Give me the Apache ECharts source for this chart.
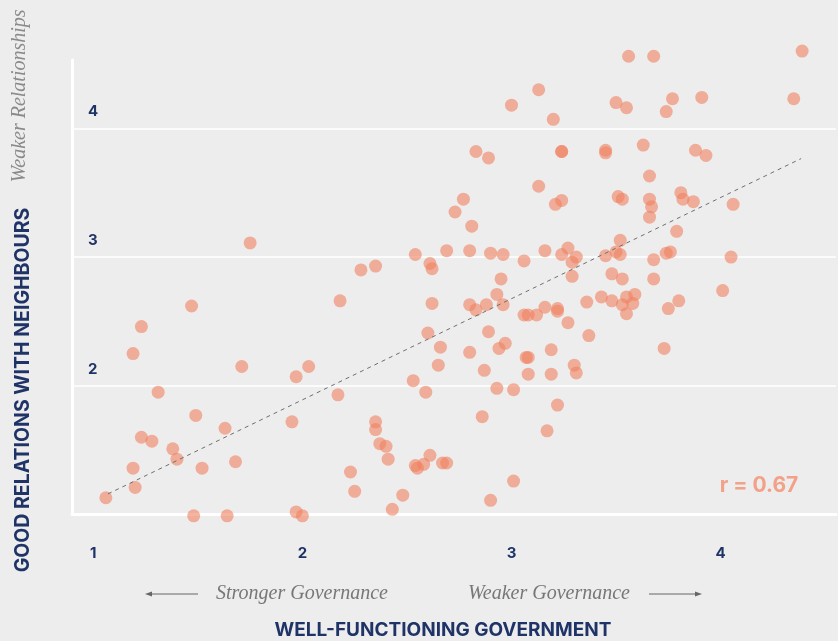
<!DOCTYPE html>
<html>
<head>
<meta charset="utf-8">
<script src="https://cdn.jsdelivr.net/npm/echarts@6/dist/echarts.min.js"></script>
<style>
  html, body { margin: 0; padding: 0; background: #ededed; }
  #main { width: 838px; height: 641px; }
</style>
</head>
<body>
<div id="main"></div>
<script>
// governance score (x) and neighbour relations score (y), one entry per country
let govScores = [
  1.75, 1.47, 1.23, 1.19, 1.71, 1.97, 2.03, 1.31, 1.49, 1.63, 1.95, 1.23, 1.28, 1.38, 1.40, 1.19,
  1.52, 1.68, 1.20, 1.06, 1.48, 1.64, 1.97, 2.00,
  2.77, 2.73, 2.81, 2.54, 2.69, 2.80, 2.35, 2.28, 2.61, 2.62, 2.18, 2.62, 2.80, 2.83, 2.88, 2.60,
  2.66, 2.80, 2.17, 2.53, 2.59, 2.65, 2.87, 2.86, 2.35, 2.35, 2.37, 2.40, 2.41, 2.23, 2.25, 2.48,
  2.43, 2.61, 2.54, 2.58, 2.55, 2.67, 2.69, 2.90,
  3.56, 3.68, 3.13, 3.00, 3.20, 3.50, 3.55, 2.83, 2.89, 3.24, 3.24, 3.45, 3.45, 3.63, 3.13, 3.24,
  3.21, 3.66, 3.51, 3.53, 3.66, 3.67, 3.66, 3.52, 2.90, 2.96, 3.06, 3.16, 3.27, 3.24, 3.31, 3.29,
  3.29, 3.45, 3.50, 3.52, 3.68, 3.48, 3.53, 3.68, 2.95, 2.93, 2.96, 3.06, 3.08, 3.12, 3.16, 3.22,
  3.22, 3.36, 3.43, 3.48, 3.55, 3.59, 3.58, 3.53, 3.55, 3.27, 3.37, 2.89, 2.97, 2.94, 3.08, 3.07,
  3.19, 3.08, 3.19, 3.30, 3.31, 3.73, 2.93, 3.01, 3.22, 3.17, 3.01,
  4.39, 3.77, 3.91, 3.74, 4.35, 3.88, 3.93, 3.81, 3.82, 3.87, 4.06, 3.79, 3.74, 3.76, 4.05, 3.80,
  3.75, 4.01
];
let relScores = [
  3.11, 2.62, 2.46, 2.25, 2.15, 2.07, 2.15, 1.95, 1.77, 1.67, 1.72, 1.60, 1.57, 1.51, 1.43, 1.36,
  1.36, 1.41, 1.21, 1.13, 0.99, 0.99, 1.02, 0.99,
  3.45, 3.35, 3.24, 3.02, 3.05, 3.05, 2.93, 2.90, 2.95, 2.91, 2.66, 2.64, 2.63, 2.59, 2.63, 2.41,
  2.30, 2.26, 1.93, 2.04, 1.95, 2.16, 2.12, 1.76, 1.72, 1.66, 1.55, 1.53, 1.43, 1.33, 1.18, 1.15,
  1.04, 1.46, 1.38, 1.39, 1.36, 1.40, 1.40, 1.11,
  4.56, 4.56, 4.30, 4.18, 4.07, 4.20, 4.16, 3.82, 3.77, 3.82, 3.82, 3.83, 3.81, 3.87, 3.55, 3.44,
  3.41, 3.63, 3.47, 3.45, 3.45, 3.39, 3.31, 3.13, 3.03, 3.02, 2.97, 3.05, 3.07, 3.02, 3.00, 2.96,
  2.85, 3.01, 3.04, 3.02, 2.98, 2.87, 2.83, 2.83, 2.83, 2.71, 2.63, 2.55, 2.55, 2.55, 2.61, 2.60,
  2.58, 2.65, 2.69, 2.66, 2.69, 2.71, 2.64, 2.63, 2.56, 2.49, 2.39, 2.42, 2.33, 2.29, 2.22, 2.22,
  2.28, 2.09, 2.09, 2.16, 2.10, 2.29, 1.98, 1.97, 1.85, 1.65, 1.26,
  4.60, 4.23, 4.24, 4.13, 4.23, 3.83, 3.79, 3.50, 3.45, 3.43, 3.41, 3.20, 3.03, 3.04, 3.00, 2.66,
  2.60, 2.74
];
// dashed fit line end points
let trendX = [1.07, 4.385];
let trendY = [1.16, 3.765];
let xTicks = [1, 2, 3, 4];
let yTicks = [2, 3, 4];
let rValue = '0.67';

let navy = '#1f3366';
let salmon = '#f0805f';
let serif = 'italic 20px "Liberation Serif"';

let points = govScores.map((x, i) => [x, relScores[i]]);
let trend = trendX.map((x, i) => [x, trendY[i]]);

let chart = echarts.init(document.getElementById('main'));
chart.setOption({
  backgroundColor: '#ededed',
  animation: false,
  grid: { left: 72, right: 2, top: 60, bottom: 126.5 },
  xAxis: {
    type: 'value',
    min: 0.898,
    max: 4.552,
    axisLine: { show: true, onZero: false, lineStyle: { color: '#ffffff', width: 3 } },
    axisTick: { show: false },
    splitLine: { show: false },
    axisLabel: {
      customValues: xTicks,
      margin: 31,
      color: navy,
      fontFamily: 'Inter',
      fontWeight: 'bold',
      fontSize: 15
    }
  },
  yAxis: {
    type: 'value',
    min: 1,
    max: 4.531,
    interval: 1,
    axisLine: { show: true, onZero: false, lineStyle: { color: '#ffffff', width: 3 } },
    axisTick: { show: false },
    splitLine: {
      show: true,
      showMinLine: false,
      showMaxLine: false,
      lineStyle: { color: '#ffffff', width: 1.5 }
    },
    axisLabel: {
      customValues: yTicks,
      inside: true,
      margin: 16,
      verticalAlign: 'bottom',
      padding: [0, 0, 9, 0],
      color: navy,
      fontFamily: 'Inter',
      fontWeight: 'bold',
      fontSize: 15
    }
  },
  series: [
    {
      type: 'scatter',
      data: points,
      symbolSize: 13,
      clip: false,
      itemStyle: { color: salmon, opacity: 0.6 },
      z: 3
    },
    {
      type: 'line',
      data: trend,
      symbol: 'none',
      clip: false,
      lineStyle: { color: '#6f6f6f', width: 1, type: [4, 4] },
      z: 4
    }
  ],
  graphic: [
    {
      type: 'text', x: 20, y: 96, rotation: Math.PI / 2,
      style: {
        text: 'Weaker Relationships', align: 'center', verticalAlign: 'middle',
        fill: '#8a8a8a', font: serif
      }
    },
    {
      type: 'text', x: 23, y: 390, rotation: Math.PI / 2,
      style: {
        text: 'GOOD RELATIONS WITH NEIGHBOURS', align: 'center', verticalAlign: 'middle',
        fill: navy, font: 'bold 19.5px Inter'
      }
    },
    {
      type: 'text', x: 443, y: 630,
      style: {
        text: 'WELL-FUNCTIONING GOVERNMENT', align: 'center', verticalAlign: 'middle',
        fill: navy, font: 'bold 19px Inter'
      }
    },
    {
      type: 'text', x: 302, y: 594,
      style: {
        text: 'Stronger Governance', align: 'center', verticalAlign: 'middle',
        fill: '#777777', font: serif
      }
    },
    {
      type: 'text', x: 549, y: 594,
      style: {
        text: 'Weaker Governance', align: 'center', verticalAlign: 'middle',
        fill: '#777777', font: serif
      }
    },
    // arrows under the x axis
    { type: 'line', shape: { x1: 198, y1: 594, x2: 149, y2: 594 }, style: { stroke: '#666666', lineWidth: 1 } },
    { type: 'polygon', shape: { points: [[145, 594], [152, 591.5], [152, 596.5]] }, style: { fill: '#666666' } },
    { type: 'line', shape: { x1: 649, y1: 594, x2: 698, y2: 594 }, style: { stroke: '#666666', lineWidth: 1 } },
    { type: 'polygon', shape: { points: [[702, 594], [695, 591.5], [695, 596.5]] }, style: { fill: '#666666' } },
    {
      type: 'text', x: 759, y: 486,
      style: {
        text: 'r = ' + rValue, align: 'center', verticalAlign: 'middle',
        fill: '#f2a288', font: 'bold 21px Inter'
      }
    }
  ]
});
</script>
</body>
</html>
